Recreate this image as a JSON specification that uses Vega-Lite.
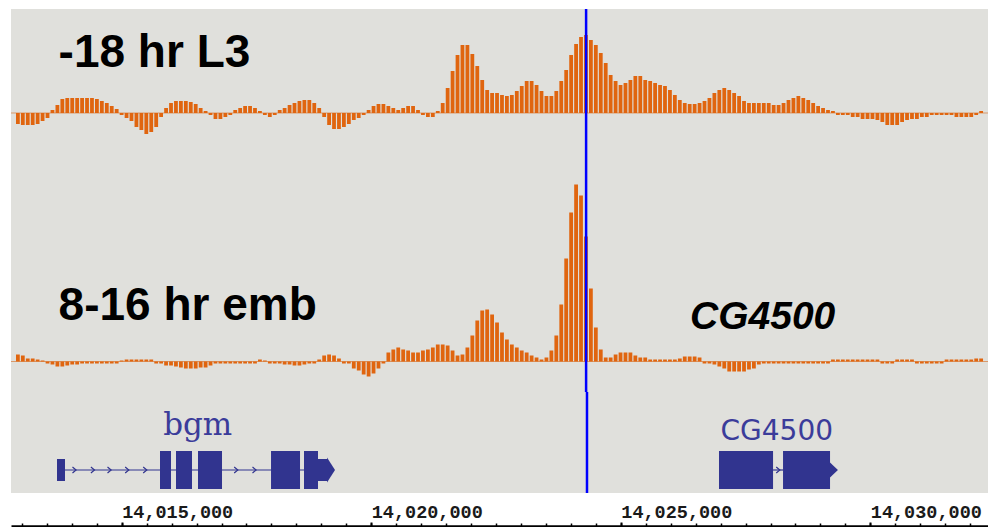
{
"$schema": "https://vega.github.io/schema/vega-lite/v6.json",
"background": "#ffffff",
"padding": {"left": 10, "top": 7, "right": 0, "bottom": 0},
"spacing": 0,
"bounds": "flush",
"config": {"view": {"fill": "#e0e0dc", "stroke": null}},
"datasets": {
"l3": [
{"pos":14012820,"signal":-11},{"pos":14012920,"signal":-12},{"pos":14013020,"signal":-12},{"pos":14013120,"signal":-12},{"pos":14013220,"signal":-11},{"pos":14013320,"signal":-8},{"pos":14013420,"signal":-5},{"pos":14013520,"signal":3},{"pos":14013620,"signal":8},{"pos":14013720,"signal":14},
{"pos":14013820,"signal":15},{"pos":14013920,"signal":15},{"pos":14014020,"signal":15},{"pos":14014120,"signal":15},{"pos":14014220,"signal":15},{"pos":14014320,"signal":15},{"pos":14014420,"signal":14},{"pos":14014520,"signal":12},{"pos":14014620,"signal":10},{"pos":14014720,"signal":7},
{"pos":14014820,"signal":4},{"pos":14014920,"signal":-2},{"pos":14015020,"signal":-5},{"pos":14015120,"signal":-8},{"pos":14015220,"signal":-14},{"pos":14015320,"signal":-17},{"pos":14015420,"signal":-21},{"pos":14015520,"signal":-19},{"pos":14015620,"signal":-14},{"pos":14015720,"signal":-4},
{"pos":14015820,"signal":5},{"pos":14015920,"signal":10},{"pos":14016020,"signal":12},{"pos":14016120,"signal":12},{"pos":14016220,"signal":12},{"pos":14016320,"signal":11},{"pos":14016420,"signal":9},{"pos":14016520,"signal":5},{"pos":14016620,"signal":2},{"pos":14016720,"signal":-2},
{"pos":14016820,"signal":-6},{"pos":14016920,"signal":-6},{"pos":14017020,"signal":-4},{"pos":14017120,"signal":-2},{"pos":14017220,"signal":3},{"pos":14017320,"signal":5},{"pos":14017420,"signal":7},{"pos":14017520,"signal":7},{"pos":14017620,"signal":5},{"pos":14017720,"signal":2},
{"pos":14017820,"signal":-2},{"pos":14017920,"signal":-4},{"pos":14018020,"signal":-2},{"pos":14018120,"signal":3},{"pos":14018220,"signal":5},{"pos":14018320,"signal":8},{"pos":14018420,"signal":10},{"pos":14018520,"signal":12},{"pos":14018620,"signal":13},{"pos":14018720,"signal":13},
{"pos":14018820,"signal":10},{"pos":14018920,"signal":5},{"pos":14019020,"signal":-4},{"pos":14019120,"signal":-12},{"pos":14019220,"signal":-16},{"pos":14019320,"signal":-16},{"pos":14019420,"signal":-14},{"pos":14019520,"signal":-11},{"pos":14019620,"signal":-7},{"pos":14019720,"signal":-5},
{"pos":14019820,"signal":-2},{"pos":14019920,"signal":3},{"pos":14020020,"signal":7},{"pos":14020120,"signal":9},{"pos":14020220,"signal":9},{"pos":14020320,"signal":7},{"pos":14020420,"signal":5},{"pos":14020520,"signal":3},{"pos":14020620,"signal":5},{"pos":14020720,"signal":7},
{"pos":14020820,"signal":7},{"pos":14020920,"signal":3},{"pos":14021020,"signal":-2},{"pos":14021120,"signal":-4},{"pos":14021220,"signal":-4},{"pos":14021320,"signal":2},{"pos":14021420,"signal":10},{"pos":14021520,"signal":25},{"pos":14021620,"signal":42},{"pos":14021720,"signal":58},
{"pos":14021820,"signal":68},{"pos":14021920,"signal":68},{"pos":14022020,"signal":59},{"pos":14022120,"signal":47},{"pos":14022220,"signal":33},{"pos":14022320,"signal":23},{"pos":14022420,"signal":20},{"pos":14022520,"signal":20},{"pos":14022620,"signal":18},{"pos":14022720,"signal":17},
{"pos":14022820,"signal":18},{"pos":14022920,"signal":22},{"pos":14023020,"signal":27},{"pos":14023120,"signal":32},{"pos":14023220,"signal":32},{"pos":14023320,"signal":28},{"pos":14023420,"signal":22},{"pos":14023520,"signal":17},{"pos":14023620,"signal":17},{"pos":14023720,"signal":22},
{"pos":14023820,"signal":32},{"pos":14023920,"signal":43},{"pos":14024020,"signal":58},{"pos":14024120,"signal":69},{"pos":14024220,"signal":76},{"pos":14024320,"signal":78},{"pos":14024420,"signal":73},{"pos":14024520,"signal":68},{"pos":14024620,"signal":60},{"pos":14024720,"signal":50},
{"pos":14024820,"signal":38},{"pos":14024920,"signal":32},{"pos":14025020,"signal":28},{"pos":14025120,"signal":30},{"pos":14025220,"signal":33},{"pos":14025320,"signal":37},{"pos":14025420,"signal":37},{"pos":14025520,"signal":33},{"pos":14025620,"signal":32},{"pos":14025720,"signal":30},
{"pos":14025820,"signal":28},{"pos":14025920,"signal":27},{"pos":14026020,"signal":23},{"pos":14026120,"signal":18},{"pos":14026220,"signal":13},{"pos":14026320,"signal":10},{"pos":14026420,"signal":9},{"pos":14026520,"signal":9},{"pos":14026620,"signal":10},{"pos":14026720,"signal":12},
{"pos":14026820,"signal":15},{"pos":14026920,"signal":20},{"pos":14027020,"signal":23},{"pos":14027120,"signal":25},{"pos":14027220,"signal":23},{"pos":14027320,"signal":20},{"pos":14027420,"signal":17},{"pos":14027520,"signal":12},{"pos":14027620,"signal":10},{"pos":14027720,"signal":10},
{"pos":14027820,"signal":10},{"pos":14027920,"signal":10},{"pos":14028020,"signal":10},{"pos":14028120,"signal":8},{"pos":14028220,"signal":8},{"pos":14028320,"signal":10},{"pos":14028420,"signal":13},{"pos":14028520,"signal":15},{"pos":14028620,"signal":17},{"pos":14028720,"signal":15},
{"pos":14028820,"signal":13},{"pos":14028920,"signal":10},{"pos":14029020,"signal":7},{"pos":14029120,"signal":5},{"pos":14029220,"signal":3},{"pos":14029320,"signal":2},{"pos":14029420,"signal":-2},{"pos":14029520,"signal":-2},{"pos":14029620,"signal":-2},{"pos":14029720,"signal":-4},
{"pos":14029820,"signal":-4},{"pos":14029920,"signal":-6},{"pos":14030020,"signal":-6},{"pos":14030120,"signal":-6},{"pos":14030220,"signal":-7},{"pos":14030320,"signal":-9},{"pos":14030420,"signal":-12},{"pos":14030520,"signal":-12},{"pos":14030620,"signal":-12},{"pos":14030720,"signal":-9},
{"pos":14030820,"signal":-7},{"pos":14030920,"signal":-6},{"pos":14031020,"signal":-6},{"pos":14031120,"signal":-4},{"pos":14031220,"signal":-4},{"pos":14031320,"signal":-2},{"pos":14031420,"signal":-2},{"pos":14031520,"signal":-2},{"pos":14031620,"signal":-2},{"pos":14031720,"signal":-2},
{"pos":14031820,"signal":-4},{"pos":14031920,"signal":-4},{"pos":14032020,"signal":-4},{"pos":14032120,"signal":-4},{"pos":14032220,"signal":-2},{"pos":14032320,"signal":2}
],
"emb": [
{"pos":14012820,"signal":7},{"pos":14012920,"signal":6},{"pos":14013020,"signal":3},{"pos":14013120,"signal":3},{"pos":14013220,"signal":2},{"pos":14013320,"signal":1},{"pos":14013420,"signal":-2},{"pos":14013520,"signal":-3},{"pos":14013620,"signal":-5},{"pos":14013720,"signal":-5},
{"pos":14013820,"signal":-4},{"pos":14013920,"signal":-3},{"pos":14014020,"signal":-3},{"pos":14014120,"signal":-2},{"pos":14014220,"signal":-2},{"pos":14014320,"signal":-2},{"pos":14014420,"signal":-2},{"pos":14014520,"signal":-2},{"pos":14014620,"signal":-2},{"pos":14014720,"signal":-2},
{"pos":14014820,"signal":-2},{"pos":14014920,"signal":1},{"pos":14015020,"signal":2},{"pos":14015120,"signal":2},{"pos":14015220,"signal":2},{"pos":14015320,"signal":2},{"pos":14015420,"signal":2},{"pos":14015520,"signal":2},{"pos":14015620,"signal":-2},{"pos":14015720,"signal":-2},
{"pos":14015820,"signal":-4},{"pos":14015920,"signal":-4},{"pos":14016020,"signal":-5},{"pos":14016120,"signal":-6},{"pos":14016220,"signal":-7},{"pos":14016320,"signal":-7},{"pos":14016420,"signal":-7},{"pos":14016520,"signal":-6},{"pos":14016620,"signal":-6},{"pos":14016720,"signal":-4},
{"pos":14016820,"signal":-2},{"pos":14016920,"signal":-2},{"pos":14017020,"signal":-2},{"pos":14017120,"signal":-2},{"pos":14017220,"signal":-2},{"pos":14017320,"signal":-2},{"pos":14017420,"signal":-2},{"pos":14017520,"signal":-2},{"pos":14017620,"signal":-2},{"pos":14017720,"signal":2},
{"pos":14017820,"signal":1},{"pos":14017920,"signal":-2},{"pos":14018020,"signal":-2},{"pos":14018120,"signal":-2},{"pos":14018220,"signal":-3},{"pos":14018320,"signal":-3},{"pos":14018420,"signal":-4},{"pos":14018520,"signal":-4},{"pos":14018620,"signal":-3},{"pos":14018720,"signal":-2},
{"pos":14018820,"signal":-2},{"pos":14018920,"signal":2},{"pos":14019020,"signal":6},{"pos":14019120,"signal":7},{"pos":14019220,"signal":6},{"pos":14019320,"signal":3},{"pos":14019420,"signal":-2},{"pos":14019520,"signal":-2},{"pos":14019620,"signal":-7},{"pos":14019720,"signal":-9},
{"pos":14019820,"signal":-13},{"pos":14019920,"signal":-15},{"pos":14020020,"signal":-12},{"pos":14020120,"signal":-7},{"pos":14020220,"signal":-2},{"pos":14020320,"signal":9},{"pos":14020420,"signal":12},{"pos":14020520,"signal":14},{"pos":14020620,"signal":12},{"pos":14020720,"signal":11},
{"pos":14020820,"signal":9},{"pos":14020920,"signal":9},{"pos":14021020,"signal":11},{"pos":14021120,"signal":12},{"pos":14021220,"signal":14},{"pos":14021320,"signal":17},{"pos":14021420,"signal":17},{"pos":14021520,"signal":16},{"pos":14021620,"signal":11},{"pos":14021720,"signal":6},
{"pos":14021820,"signal":7},{"pos":14021920,"signal":14},{"pos":14022020,"signal":26},{"pos":14022120,"signal":41},{"pos":14022220,"signal":51},{"pos":14022320,"signal":52},{"pos":14022420,"signal":47},{"pos":14022520,"signal":39},{"pos":14022620,"signal":29},{"pos":14022720,"signal":22},
{"pos":14022820,"signal":17},{"pos":14022920,"signal":14},{"pos":14023020,"signal":11},{"pos":14023120,"signal":9},{"pos":14023220,"signal":6},{"pos":14023320,"signal":4},{"pos":14023420,"signal":2},{"pos":14023520,"signal":4},{"pos":14023620,"signal":11},{"pos":14023720,"signal":26},
{"pos":14023820,"signal":57},{"pos":14023920,"signal":103},{"pos":14024020,"signal":149},{"pos":14024120,"signal":177},{"pos":14024220,"signal":166},{"pos":14024320,"signal":125},{"pos":14024420,"signal":73},{"pos":14024520,"signal":34},{"pos":14024620,"signal":12},{"pos":14024720,"signal":4},
{"pos":14024820,"signal":4},{"pos":14024920,"signal":7},{"pos":14025020,"signal":9},{"pos":14025120,"signal":9},{"pos":14025220,"signal":9},{"pos":14025320,"signal":6},{"pos":14025420,"signal":4},{"pos":14025520,"signal":4},{"pos":14025620,"signal":2},{"pos":14025720,"signal":2},
{"pos":14025820,"signal":2},{"pos":14025920,"signal":2},{"pos":14026020,"signal":2},{"pos":14026120,"signal":2},{"pos":14026220,"signal":3},{"pos":14026320,"signal":5},{"pos":14026420,"signal":5},{"pos":14026520,"signal":5},{"pos":14026620,"signal":4},{"pos":14026720,"signal":-2},
{"pos":14026820,"signal":-2},{"pos":14026920,"signal":-3},{"pos":14027020,"signal":-5},{"pos":14027120,"signal":-7},{"pos":14027220,"signal":-10},{"pos":14027320,"signal":-10},{"pos":14027420,"signal":-10},{"pos":14027520,"signal":-10},{"pos":14027620,"signal":-8},{"pos":14027720,"signal":-7},
{"pos":14027820,"signal":-3},{"pos":14027920,"signal":-2},{"pos":14028020,"signal":-2},{"pos":14028120,"signal":-2},{"pos":14028220,"signal":-2},{"pos":14028320,"signal":-2},{"pos":14028420,"signal":-2},{"pos":14028520,"signal":-2},{"pos":14028620,"signal":-2},{"pos":14028720,"signal":-2},
{"pos":14028820,"signal":-2},{"pos":14028920,"signal":-2},{"pos":14029020,"signal":-2},{"pos":14029120,"signal":-2},{"pos":14029220,"signal":-2},{"pos":14029320,"signal":2},{"pos":14029420,"signal":2},{"pos":14029520,"signal":2},{"pos":14029620,"signal":2},{"pos":14029720,"signal":2},
{"pos":14029820,"signal":2},{"pos":14029920,"signal":2},{"pos":14030020,"signal":2},{"pos":14030120,"signal":2},{"pos":14030220,"signal":2},{"pos":14030320,"signal":-2},{"pos":14030420,"signal":-2},{"pos":14030520,"signal":-2},{"pos":14030620,"signal":2},{"pos":14030720,"signal":2},
{"pos":14030820,"signal":2},{"pos":14030920,"signal":2},{"pos":14031020,"signal":-2},{"pos":14031120,"signal":-2},{"pos":14031220,"signal":-2},{"pos":14031320,"signal":-2},{"pos":14031420,"signal":-2},{"pos":14031520,"signal":-2},{"pos":14031620,"signal":2},{"pos":14031720,"signal":2},
{"pos":14031820,"signal":2},{"pos":14031920,"signal":2},{"pos":14032020,"signal":2},{"pos":14032120,"signal":2},{"pos":14032220,"signal":3},{"pos":14032320,"signal":3}
],
"genes": [
{"gene":"bgm","kind":"intron","start":14013864,"end":14018653},
{"gene":"bgm","kind":"UTR","start":14013704,"end":14013864},
{"gene":"bgm","kind":"CDS","start":14015767,"end":14015988},
{"gene":"bgm","kind":"CDS","start":14016088,"end":14016409},
{"gene":"bgm","kind":"CDS","start":14016529,"end":14017010},
{"gene":"bgm","kind":"CDS","start":14017992,"end":14018573},
{"gene":"bgm","kind":"CDS","start":14018653,"end":14018933},
{"gene":"bgm","kind":"UTR","start":14018933,"end":14019114},
{"gene":"CG4500","kind":"intron","start":14028051,"end":14028251},
{"gene":"CG4500","kind":"CDS","start":14026968,"end":14028051},
{"gene":"CG4500","kind":"CDS","start":14028251,"end":14029193}
],
"chevrons": [
{"gene":"bgm","pos":14014050},{"gene":"bgm","pos":14014419},{"gene":"bgm","pos":14014752},{"gene":"bgm","pos":14015106},{"gene":"bgm","pos":14015467},{"gene":"bgm","pos":14017290},{"gene":"bgm","pos":14017657},{"gene":"CG4500","pos":14028151}
],
"tips": [
{"gene":"bgm","pos":14019194},{"gene":"CG4500","pos":14029272}
]
},
"vconcat": [
{
"width": 978, "height": 153,
"layer": [
{"data": {"values": [{}]}, "mark": {"type": "rule", "color": "#d9996b", "strokeWidth": 1},
 "encoding": {"y": {"datum": 0, "type": "quantitative", "scale": {"domain": [-49, 104], "nice": false, "zero": false}, "axis": null}}},
{"data": {"name": "l3"}, "mark": {"type": "bar", "width": 3.8, "color": "#e0650f", "clip": true},
 "encoding": {
  "x": {"field": "pos", "type": "quantitative", "scale": {"domain": [14012782, 14032378], "nice": false, "zero": false}, "axis": null},
  "y": {"field": "signal", "type": "quantitative", "scale": {"domain": [-49, 104], "nice": false, "zero": false}, "axis": null},
  "y2": {"datum": 0}}},
{"data": {"values": [{}]}, "mark": {"type": "text", "text": "-18 hr L3", "font": "Liberation Sans", "fontWeight": "bold", "fontSize": 46, "align": "left", "baseline": "alphabetic", "color": "#000000"},
 "encoding": {
  "x": {"datum": 14013644, "type": "quantitative", "scale": {"domain": [14012782, 14032378], "nice": false, "zero": false}, "axis": null},
  "y": {"datum": 46, "type": "quantitative", "scale": {"domain": [-49, 104], "nice": false, "zero": false}, "axis": null}}},
{"data": {"values": [{}]}, "mark": {"type": "rule", "color": "#0000ff", "strokeWidth": 2.5},
 "encoding": {"x": {"datum": 14024323, "type": "quantitative", "scale": {"domain": [14012782, 14032378], "nice": false, "zero": false}, "axis": null}}}
]
},
{
"width": 978, "height": 230,
"layer": [
{"data": {"values": [{}]}, "mark": {"type": "rule", "color": "#d9996b", "strokeWidth": 1},
 "encoding": {"y": {"datum": 0, "type": "quantitative", "scale": {"domain": [-30.5, 199.5], "nice": false, "zero": false}, "axis": null}}},
{"data": {"name": "emb"}, "mark": {"type": "bar", "width": 3.8, "color": "#e0650f", "clip": true},
 "encoding": {
  "x": {"field": "pos", "type": "quantitative", "scale": {"domain": [14012782, 14032378], "nice": false, "zero": false}, "axis": null},
  "y": {"field": "signal", "type": "quantitative", "scale": {"domain": [-30.5, 199.5], "nice": false, "zero": false}, "axis": null},
  "y2": {"datum": 0}}},
{"data": {"values": [{}]}, "mark": {"type": "text", "text": "8-16 hr emb", "font": "Liberation Sans", "fontWeight": "bold", "fontSize": 46, "align": "left", "baseline": "alphabetic", "color": "#000000"},
 "encoding": {
  "x": {"datum": 14013644, "type": "quantitative", "scale": {"domain": [14012782, 14032378], "nice": false, "zero": false}, "axis": null},
  "y": {"datum": 41.5, "type": "quantitative", "scale": {"domain": [-30.5, 199.5], "nice": false, "zero": false}, "axis": null}}},
{"data": {"values": [{}]}, "mark": {"type": "text", "text": "CG4500", "font": "Liberation Sans", "fontWeight": "bold", "fontStyle": "italic", "fontSize": 39, "align": "left", "baseline": "alphabetic", "color": "#000000"},
 "encoding": {
  "x": {"datum": 14026427, "type": "quantitative", "scale": {"domain": [14012782, 14032378], "nice": false, "zero": false}, "axis": null},
  "y": {"datum": 32.5, "type": "quantitative", "scale": {"domain": [-30.5, 199.5], "nice": false, "zero": false}, "axis": null}}},
{"data": {"values": [{}]}, "mark": {"type": "rule", "color": "#0000ff", "strokeWidth": 2.5},
 "encoding": {"x": {"datum": 14024323, "type": "quantitative", "scale": {"domain": [14012782, 14032378], "nice": false, "zero": false}, "axis": null}}}
]
},
{
"width": 978, "height": 101,
"resolve": {"axis": {"x": "independent"}},
"layer": [
{"data": {"name": "genes"}, "transform": [{"filter": "datum.kind === 'intron'"}],
 "mark": {"type": "rule", "color": "#31348f", "strokeWidth": 1.2},
 "encoding": {
  "x": {"field": "start", "type": "quantitative", "scale": {"domain": [14012782, 14032378], "nice": false, "zero": false},
   "axis": {"orient": "bottom", "offset": 33, "values": [14015000, 14020000, 14025000, 14030000], "format": ",d", "title": null, "grid": false,
    "domainColor": "#000000", "domainWidth": 2.5, "tickColor": "#000000", "tickWidth": 2, "tickSize": -4,
    "labelAlign": "left", "labelBaseline": "alphabetic", "labelPadding": -5, "labelFont": "Liberation Mono", "labelFontWeight": "bold",
    "labelFontSize": 18.5, "labelColor": "#1a1a1a", "labelFlush": false, "labelOverlap": false}},
  "x2": {"field": "end"},
  "y": {"datum": 23, "type": "quantitative", "scale": {"domain": [0, 101], "nice": false, "zero": false}, "axis": null}}},
{"data": {"name": "genes"}, "transform": [{"filter": "datum.kind === 'CDS'"}],
 "mark": {"type": "rect", "color": "#31348f"},
 "encoding": {
  "x": {"field": "start", "type": "quantitative", "scale": {"domain": [14012782, 14032378], "nice": false, "zero": false}, "axis": null},
  "x2": {"field": "end"},
  "y": {"datum": 4, "type": "quantitative", "scale": {"domain": [0, 101], "nice": false, "zero": false}, "axis": null},
  "y2": {"datum": 42}}},
{"data": {"name": "genes"}, "transform": [{"filter": "datum.kind === 'UTR'"}],
 "mark": {"type": "rect", "color": "#31348f"},
 "encoding": {
  "x": {"field": "start", "type": "quantitative", "scale": {"domain": [14012782, 14032378], "nice": false, "zero": false}, "axis": null},
  "x2": {"field": "end"},
  "y": {"datum": 12, "type": "quantitative", "scale": {"domain": [0, 101], "nice": false, "zero": false}, "axis": null},
  "y2": {"datum": 34}}},
{"data": {"name": "chevrons"},
 "mark": {"type": "point", "shape": "M -0.6 -1 L 0.6 0 L -0.6 1", "filled": false, "size": 36, "strokeWidth": 1.2, "color": "#31348f", "opacity": 1},
 "encoding": {
  "x": {"field": "pos", "type": "quantitative", "scale": {"domain": [14012782, 14032378], "nice": false, "zero": false},
   "axis": {"orient": "bottom", "offset": 33, "values": [14013000,14013500,14014000,14014500,14015000,14015500,14016000,14016500,14017000,14017500,14018000,14018500,14019000,14019500,14020000,14020500,14021000,14021500,14022000,14022500,14023000,14023500,14024000,14024500,14025000,14025500,14026000,14026500,14027000,14027500,14028000,14028500,14029000,14029500,14030000,14030500,14031000,14031500,14032000],
    "domain": false, "labels": false, "title": null, "grid": false, "tickSize": -3, "tickWidth": 1.5, "tickColor": "#000000"}},
  "y": {"datum": 23, "type": "quantitative", "scale": {"domain": [0, 101], "nice": false, "zero": false}, "axis": null}}},
{"data": {"name": "tips"}, "transform": [{"filter": "datum.gene === 'bgm'"}],
 "mark": {"type": "point", "shape": "M -0.32 -1 L 0.32 0 L -0.32 1 Z", "filled": true, "size": 625, "color": "#31348f", "opacity": 1},
 "encoding": {
  "x": {"field": "pos", "type": "quantitative", "scale": {"domain": [14012782, 14032378], "nice": false, "zero": false}, "axis": null},
  "y": {"datum": 23, "type": "quantitative", "scale": {"domain": [0, 101], "nice": false, "zero": false}, "axis": null}}},
{"data": {"name": "tips"}, "transform": [{"filter": "datum.gene === 'CG4500'"}],
 "mark": {"type": "point", "shape": "M -0.53 -1 L 0.53 0 L -0.53 1 Z", "filled": true, "size": 225, "color": "#31348f", "opacity": 1},
 "encoding": {
  "x": {"field": "pos", "type": "quantitative", "scale": {"domain": [14012782, 14032378], "nice": false, "zero": false}, "axis": null},
  "y": {"datum": 23, "type": "quantitative", "scale": {"domain": [0, 101], "nice": false, "zero": false}, "axis": null}}},
{"data": {"values": [{}]}, "mark": {"type": "text", "text": "bgm", "font": "DejaVu Serif", "fontSize": 31, "align": "center", "baseline": "alphabetic", "color": "#3b3c9a"},
 "encoding": {
  "x": {"datum": 14016523, "type": "quantitative", "scale": {"domain": [14012782, 14032378], "nice": false, "zero": false}, "axis": null},
  "y": {"datum": 58.3, "type": "quantitative", "scale": {"domain": [0, 101], "nice": false, "zero": false}, "axis": null}}},
{"data": {"values": [{}]}, "mark": {"type": "text", "text": "CG4500", "font": "DejaVu Sans", "fontSize": 28, "align": "center", "baseline": "alphabetic", "color": "#3b3c9a"},
 "encoding": {
  "x": {"datum": 14028126, "type": "quantitative", "scale": {"domain": [14012782, 14032378], "nice": false, "zero": false}, "axis": null},
  "y": {"datum": 52.7, "type": "quantitative", "scale": {"domain": [0, 101], "nice": false, "zero": false}, "axis": null}}},
{"data": {"values": [{}]}, "mark": {"type": "rule", "color": "#0000ff", "strokeWidth": 2.5},
 "encoding": {"x": {"datum": 14024323, "type": "quantitative", "scale": {"domain": [14012782, 14032378], "nice": false, "zero": false}, "axis": null}}}
]
}
]
}
